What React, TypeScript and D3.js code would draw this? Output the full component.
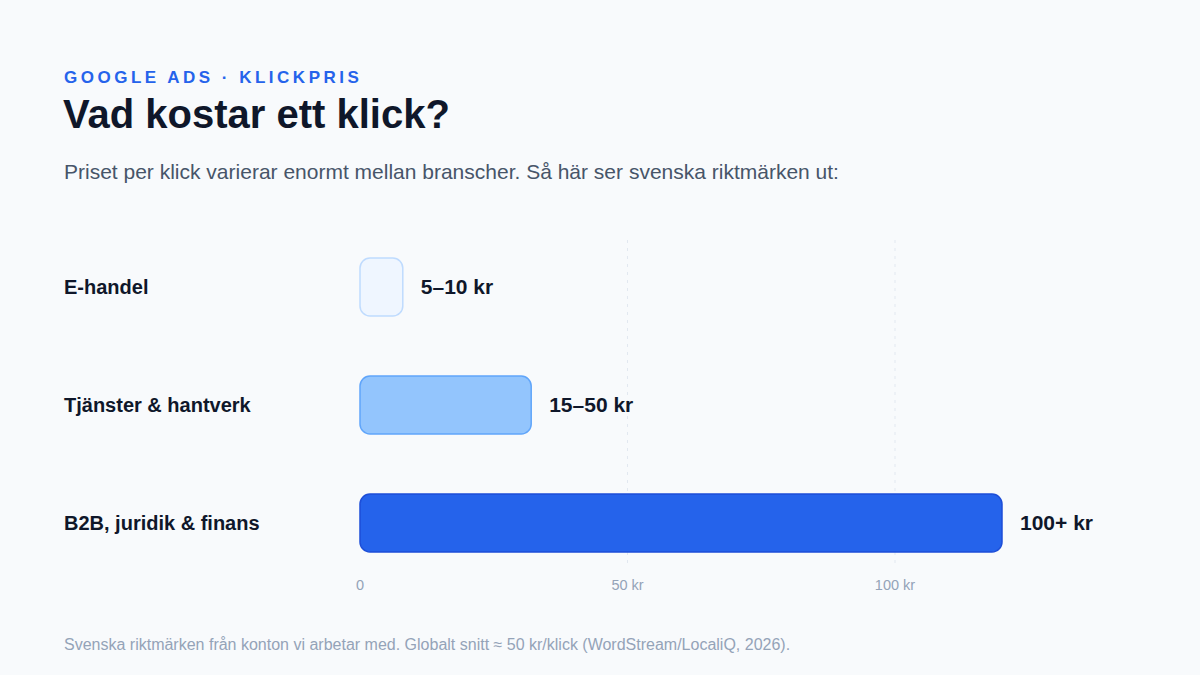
import React from "react";
import * as d3 from "d3";

const categories = ["E-handel", "Tjänster & hantverk", "B2B, juridik & finans"];
const values = [8, 32, 120];
const valueLabels = ["5–10 kr", "15–50 kr", "100+ kr"];
const tickValues = [0, 50, 100];
const tickLabels = ["0", "50 kr", "100 kr"];
const fills = ["#eff6ff", "#93c5fd", "#2563eb"];
const strokes = ["#bfdbfe", "#60a5fa", "#1d4ed8"];

const W = 1200;
const H = 675;
const FONT = "'Liberation Sans', Arial, Helvetica, sans-serif";

export default function App() {
  const x = d3.scaleLinear().domain([0, 100]).range([360, 895]);
  const y = d3
    .scaleBand<string>()
    .domain(categories)
    .range([228, 582])
    .paddingInner(60 / 118)
    .paddingOuter(30 / 118);
  const bh = y.bandwidth();
  const cy = (c: string) => (y(c) ?? 0) + bh / 2;

  return (
    <svg width={W} height={H} style={{ position: "absolute", left: 0, top: 0, display: "block" }}>
      <rect width={W} height={H} fill="#f8fafc" />
      <text x={64} y={83} fontFamily={FONT} fontSize={17} fontWeight={700} fill="#2563eb" letterSpacing={3.5}>
        GOOGLE ADS · KLICKPRIS
      </text>
      <text x={63} y={128} fontFamily={FONT} fontSize={40} fontWeight={700} fill="#0f172a">
        Vad kostar ett klick?
      </text>
      <text x={64} y={179} fontFamily={FONT} fontSize={21} fill="#475569">
        Priset per klick varierar enormt mellan branscher. Så här ser svenska riktmärken ut:
      </text>

      {tickValues.slice(1).map((t) => (
        <line
          key={t}
          x1={x(t)}
          x2={x(t)}
          y1={240}
          y2={566}
          stroke="#e2e8f0"
          strokeWidth={1}
          strokeDasharray="3 5"
        />
      ))}

      {categories.map((c, i) => (
        <g key={c}>
          <text x={64} y={cy(c)} dy="0.35em" fontFamily={FONT} fontSize={20} fontWeight={700} fill="#0f172a">
            {c}
          </text>
          <rect
            x={x(0)}
            y={y(c)}
            width={x(values[i]) - x(0)}
            height={bh}
            rx={10}
            fill={fills[i]}
            stroke={strokes[i]}
            strokeWidth={1.5}
          />
          <text
            x={x(values[i]) + 18}
            y={cy(c)}
            dy="0.35em"
            fontFamily={FONT}
            fontSize={21}
            fontWeight={700}
            fill="#0f172a"
          >
            {valueLabels[i]}
          </text>
        </g>
      ))}

      {tickValues.map((t, i) => (
        <text
          key={t}
          x={x(t)}
          y={590}
          textAnchor="middle"
          fontFamily={FONT}
          fontSize={14.5}
          fill="#94a3b8"
        >
          {tickLabels[i]}
        </text>
      ))}

      <text x={64} y={650} fontFamily={FONT} fontSize={16} fill="#94a3b8">
        Svenska riktmärken från konton vi arbetar med. Globalt snitt ≈ 50 kr/klick (WordStream/LocaliQ, 2026).
      </text>
    </svg>
  );
}
